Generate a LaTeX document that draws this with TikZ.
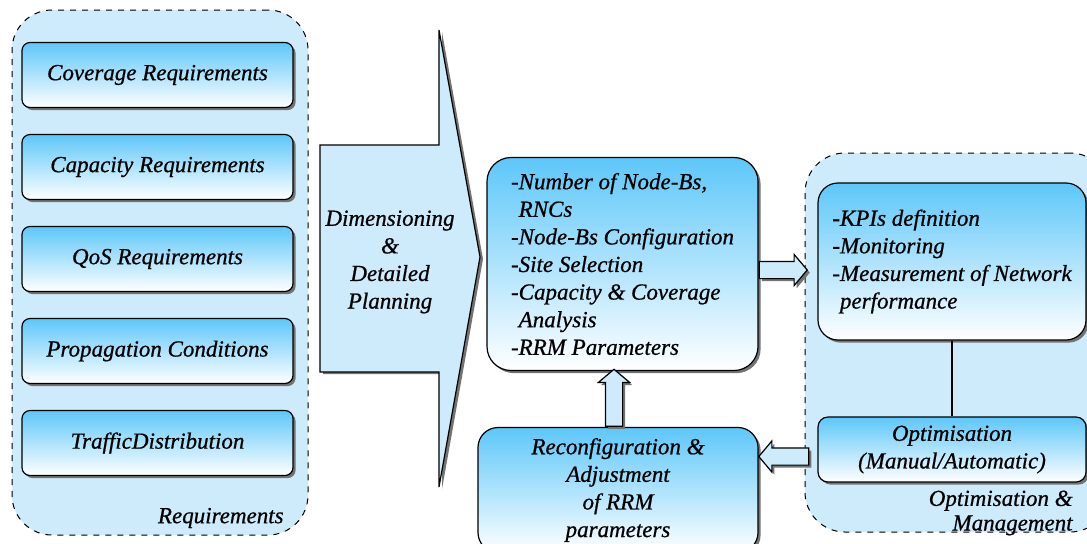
\documentclass[tikz,border=0pt]{standalone}
\usepackage{fontspec}
\setmainfont[ItalicFeatures={FakeBold=0.7}]{Liberation Serif}
\usetikzlibrary{shapes.arrows,shadows,calc}

\definecolor{grpfill}{HTML}{CDEBFB}
\definecolor{boxtop}{HTML}{5DC7F9}
\definecolor{arrfill}{HTML}{CDEBFB}

\tikzset{
  boxshadow/.style={drop shadow={shadow xshift=1.3pt, shadow yshift=-1.3pt,
      fill=black!55, opacity=1}},
  group/.style={draw, dashed, line width=0.5pt, fill=grpfill,
      rounded corners=20pt, inner sep=0pt},
  gradbox/.style={draw, line width=0.6pt, top color=boxtop, bottom color=white,
      inner sep=0pt, boxshadow},
  reqbox/.style={gradbox, rounded corners=4pt,
      minimum width=135.5pt, minimum height=32.5pt},
  blockarrow/.style={single arrow, draw, line width=0.6pt, fill=arrfill,
      inner sep=4pt, minimum width=15pt, single arrow head extend=3.5pt,
      single arrow tip angle=100, anchor=tail, boxshadow},
}

\begin{document}
\begin{tikzpicture}[x=0.5pt, y=-0.5pt,
    font=\fontsize{11.5}{13.8}\selectfont\itshape]
  \useasboundingbox (0,0) rectangle (1087,543);
  \clip (0,0) rectangle (1087,543);

  % requirements group
  \node[group, minimum width=148pt, minimum height=262.5pt] (reqgroup) at (160,272.5) {};
  \node[reqbox] (cov)  at (157.5,75)  {Coverage Requirements};
  \node[reqbox] (cap)  at (157.5,167) {Capacity Requirements};
  \node[reqbox] (qos)  at (157.5,259) {QoS Requirements};
  \node[reqbox] (prop) at (157.5,351) {Propagation Conditions};
  \node[reqbox] (traf) at (157.5,443) {TrafficDistribution};
  \node[anchor=east, inner sep=0pt] (reqlabel) at (284,518) {Requirements};

  % planning arrow
  \fill[black!55] (323,147) -- (442,147) -- (442,32) -- (483,259) -- (442,489)
        -- (442,374) -- (323,374) -- cycle;
  \draw[line width=0.6pt, fill=arrfill] (320,145) -- (439,145) -- (439,30)
        -- (480,257) -- (439,487) -- (439,372) -- (320,372) -- cycle;
  \node[align=center, inner sep=0pt] (plan) at (390,262)
        {Dimensioning\\\&\\Detailed\\Planning};

  % optimisation group
  \node[group, minimum width=152.5pt, minimum height=189.5pt] (optgroup) at (957.5,342.5) {};
  \node[gradbox, rounded corners=10pt, minimum width=134pt, minimum height=78.5pt,
        align=left] (kpi) at (952,261.5)
        {-KPIs definition\\-Monitoring\\-Measurement of Network\\\phantom{-}performance};
  \node[gradbox, rounded corners=5pt, minimum width=134pt, minimum height=32.5pt,
        align=center] (optim) at (952,449.5)
        {Optimisation\\(Manual/Automatic)};
  \draw[line width=0.6pt] (kpi.south) -- (optim.north);
  \node[anchor=east, align=right, inner sep=0pt] (optlabel) at (1073,513)
        {Optimisation \&\\[-1.5pt]Management};

  % planning output
  \node[gradbox, rounded corners=12pt, minimum width=135.5pt, minimum height=106.5pt,
        align=left] (mid) at (622.5,264)
        {-Number of Node-Bs,\\\phantom{-}RNCs\\-Node-Bs Configuration\\-Site Selection\\
         -Capacity \& Coverage\\\phantom{-}Analysis\\-RRM Parameters};

  % reconfiguration
  \node[gradbox, rounded corners=10pt, minimum width=140pt, minimum height=62.5pt,
        align=center] (reconf) at (618,490)
        {Reconfiguration \&\\Adjustment\\of RRM\\parameters};

  % block arrows
  \node[blockarrow, minimum height=24pt] (a1) at ($(mid.east)+(0,6)$) {};
  \node[blockarrow, minimum height=28.5pt, rotate=90] (a2) at ($(reconf.north)+(-4,0)$) {};
  \coordinate (optfeed) at ($(optim.west)+(-8,7)$);
  \node[blockarrow, minimum height=25pt, rotate=180] (a3) at (optfeed) {};
\end{tikzpicture}
\end{document}
